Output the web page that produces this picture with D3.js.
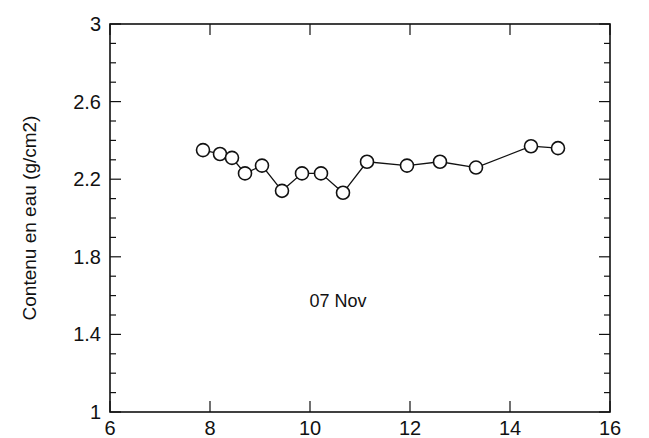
<!DOCTYPE html>
<html>
<head>
<meta charset="utf-8">
<script src="https://cdn.jsdelivr.net/npm/d3@7"></script>
<style>
    body { margin: 0; background: #fff; }
    svg text { font-family: "Liberation Sans", "DejaVu Sans", sans-serif; fill: #111; }
</style>
</head>
<body>
<div id="chart"></div>
<script>
var dayX = [7.86, 8.2, 8.44, 8.7, 9.04, 9.44, 9.84, 10.22, 10.66, 11.14, 11.94, 12.6, 13.32, 14.42, 14.96];
var waterY = [2.35, 2.33, 2.31, 2.23, 2.27, 2.14, 2.23, 2.23, 2.13, 2.29, 2.27, 2.29, 2.26, 2.37, 2.36];
var xTicks = [6, 8, 10, 12, 14, 16];
var yTicks = [1, 1.4, 1.8, 2.2, 2.6, 3];
var yLabel = "Contenu en eau (g/cm2)";
var note = "07 Nov";

(function () {
    var W = 649, H = 438;
    var left = 110, right = 610, top = 24, bottom = 412;

    var svg = d3.select("#chart").append("svg")
        .attr("width", W)
        .attr("height", H);

    var x = d3.scaleLinear().domain([6, 16]).range([left, right]);
    var y = d3.scaleLinear().domain([1, 3]).range([bottom, top]);

    // minor ticks every 0.1 on y, majors from yTicks
    var yMinor = d3.range(1, 3.001, 0.1).map(function (v) { return Math.round(v * 10) / 10; });

    var g = svg.append("g").attr("stroke", "#111").attr("fill", "none");

    // left + right ticks (inward)
    yMinor.forEach(function (v) {
        var major = yTicks.indexOf(v) >= 0;
        var len = major ? 11 : 6;
        g.append("line").attr("x1", left).attr("x2", left + len)
            .attr("y1", y(v)).attr("y2", y(v)).attr("stroke-width", 1.2);
        g.append("line").attr("x1", right).attr("x2", right - len)
            .attr("y1", y(v)).attr("y2", y(v)).attr("stroke-width", 1.2);
    });

    // bottom + top ticks
    xTicks.forEach(function (v) {
        g.append("line").attr("x1", x(v)).attr("x2", x(v))
            .attr("y1", bottom).attr("y2", bottom - 11).attr("stroke-width", 1.2);
        g.append("line").attr("x1", x(v)).attr("x2", x(v))
            .attr("y1", top).attr("y2", top + 11).attr("stroke-width", 1.2);
    });

    // frame
    g.append("rect")
        .attr("x", left).attr("y", top)
        .attr("width", right - left).attr("height", bottom - top)
        .attr("stroke-width", 1.6);

    // tick labels
    svg.selectAll("text.ylab").data(yTicks).enter().append("text")
        .attr("class", "ylab")
        .attr("x", left - 9)
        .attr("y", function (d) { return y(d); })
        .attr("dy", "0.35em")
        .attr("text-anchor", "end")
        .style("font-size", "20px")
        .text(function (d) { return d3.format("~g")(d); });

    svg.selectAll("text.xlab").data(xTicks).enter().append("text")
        .attr("class", "xlab")
        .attr("x", function (d) { return x(d); })
        .attr("y", bottom + 23)
        .attr("text-anchor", "middle")
        .style("font-size", "20px")
        .text(function (d) { return d; });

    // axis title
    svg.append("text")
        .attr("transform", "translate(36," + ((top + bottom) / 2) + ") rotate(-90)")
        .attr("text-anchor", "middle")
        .style("font-size", "19px")
        .text(yLabel);

    svg.append("text")
        .attr("x", 338).attr("y", 307)
        .attr("text-anchor", "middle")
        .style("font-size", "18px")
        .text(note);

    // series
    var pts = dayX.map(function (d, i) { return [d, waterY[i]]; });
    var line = d3.line()
        .x(function (d) { return x(d[0]); })
        .y(function (d) { return y(d[1]); });

    svg.append("path")
        .datum(pts)
        .attr("d", line)
        .attr("fill", "none")
        .attr("stroke", "#111")
        .attr("stroke-width", 1.3);

    svg.selectAll("circle").data(pts).enter().append("circle")
        .attr("cx", function (d) { return x(d[0]); })
        .attr("cy", function (d) { return y(d[1]); })
        .attr("r", 6.5)
        .attr("fill", "#fff")
        .attr("stroke", "#111")
        .attr("stroke-width", 1.6);
})();
</script>
</body>
</html>
